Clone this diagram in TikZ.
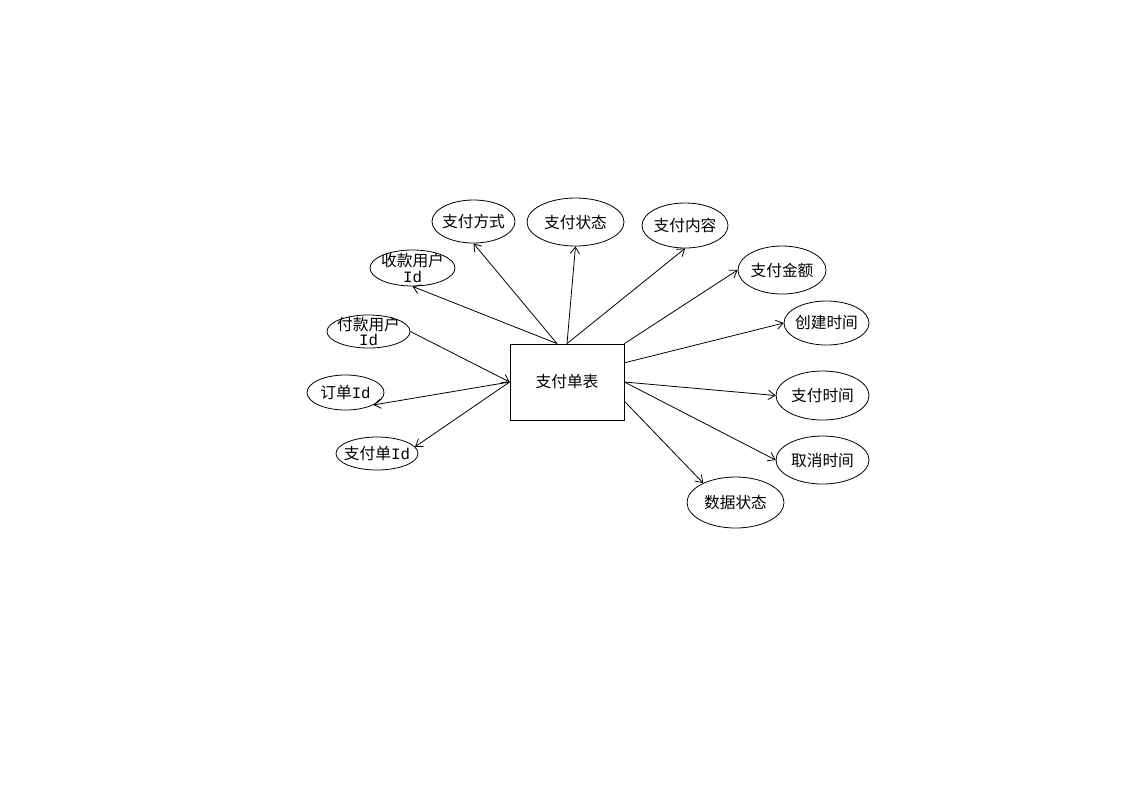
\documentclass[tikz,border=0pt]{standalone}
\usepackage{fontspec}
\setmainfont{Noto Sans CJK SC}
\newfontfamily\latinmono{Liberation Mono}
\usetikzlibrary{shapes.geometric,arrows.meta,calc}
\newcommand\idtag{{\latinmono Id}}
\begin{document}
\begin{tikzpicture}[x=0.75pt,y=-0.75pt,
  attr/.style n args={3}{ellipse,draw,line width=0.6pt,inner sep=0pt,
    minimum width=#1*0.75pt,minimum height=#2*0.75pt,
    label={[lbl]center:#3}},
  lbl/.style={font=\fontsize{11.8}{12.5}\selectfont,align=center,inner sep=0pt},
  entity/.style={draw,line width=0.6pt,inner sep=0pt,
    minimum width=114*0.75pt,minimum height=76*0.75pt,
    font=\fontsize{11.8}{12.5}\selectfont},
  link/.style={draw,line width=0.6pt,-{Straight Barb[length=5pt,width=7pt]}}]
\useasboundingbox (0,0) rectangle (1123,794);

% central entity
\node[entity] (tbl) at (567,382) {支付单表};

% attributes
\node[attr={83}{43}{支付方式}] (way)     at (473.5,221.5) {};
\node[attr={97}{48}{支付状态}] (state)   at (575.5,222) {};
\node[attr={86}{45}{支付内容}] (content) at (685,225.5) {};
\node[attr={88}{48}{支付金额}] (amount)  at (782,270) {};
\node[attr={85}{44}{创建时间}] (ctime)   at (826.5,323) {};
\node[attr={93}{49}{支付时间}] (ptime)   at (822.5,395.5) {};
\node[attr={93}{48}{取消时间}] (xtime)   at (822.5,460) {};
\node[attr={97}{51}{数据状态}] (dstate)  at (735.5,502.5) {};
\node[attr={85}{36}{收款用户\\[-1pt]\idtag}] (payee) at (412.5,268) {};
\node[attr={83}{33}{付款用户\\[-1pt]\idtag}] (payer) at (368.5,331.5) {};
\node[attr={77}{35}{订单\idtag}]   (order) at (345.5,392.5) {};
\node[attr={82}{33}{支付单\idtag}] (payid) at (377,453.5) {};

% connectors
\draw[link] ([xshift=-7.5pt]tbl.north) -- (payee.south);
\draw[link] ([xshift=-7.5pt]tbl.north) -- (way.south);
\draw[link] (tbl.north) -- (state.south);
\draw[link] (tbl.north) -- (content.south);
\draw[link] (tbl.north east) -- (amount.west);
\draw[link] ($(tbl.north east)!0.25!(tbl.south east)$) -- (ctime.west);
\draw[link] (tbl.east) -- (ptime.west);
\draw[link] (tbl.east) -- (xtime.west);
\draw[link] ($(tbl.north east)!0.75!(tbl.south east)$) -- (dstate.149);
\draw[link] (payer.east) -- (tbl.west);
\draw[link] (tbl.west) -- (order.-24);
\draw[link] (tbl.west) -- (payid.10);
\end{tikzpicture}
\end{document}
